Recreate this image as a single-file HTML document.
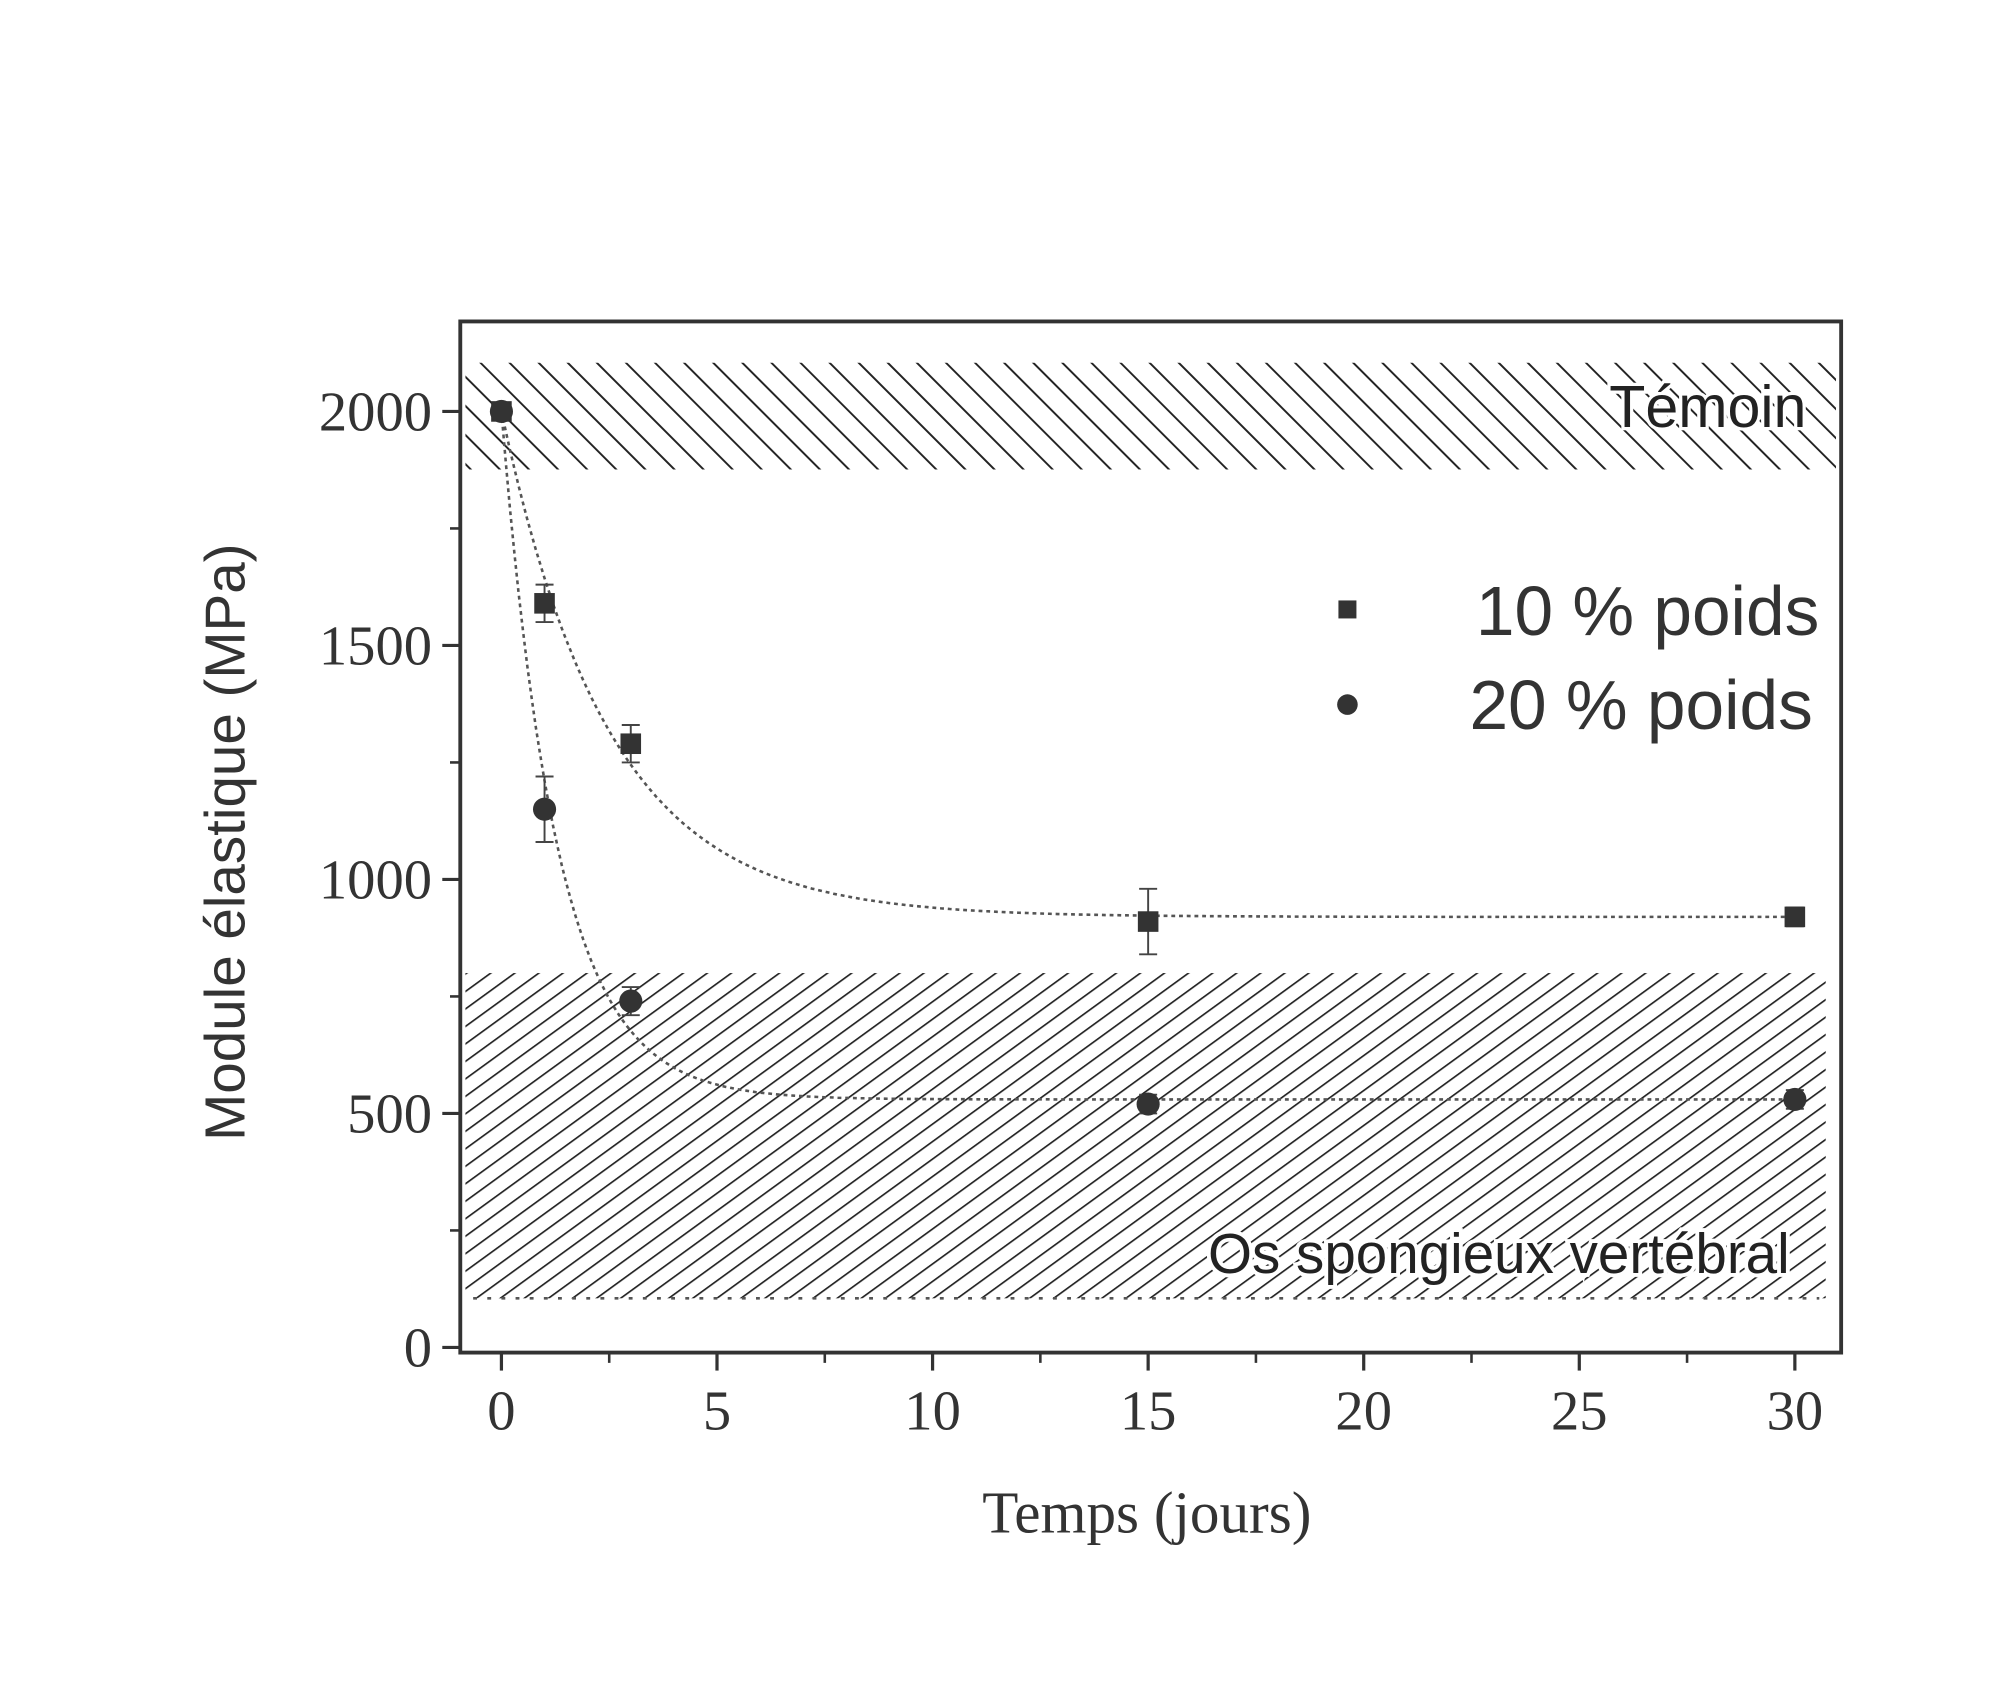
<!DOCTYPE html>
<html><head><meta charset="utf-8"><style>body{margin:0;background:#fff}svg{display:block}</style></head>
<body>
<svg width="2016" height="1691" viewBox="0 0 1568 1315.2" xmlns="http://www.w3.org/2000/svg">
<defs>
<pattern id="hatchA" width="16" height="16" patternUnits="userSpaceOnUse" patternTransform="rotate(-45)">
<line x1="0" y1="0" x2="0" y2="16" stroke="#222" stroke-width="3"/>
</pattern>
<pattern id="hatchB" width="11" height="11" patternUnits="userSpaceOnUse" patternTransform="rotate(54)">
<line x1="0" y1="0" x2="0" y2="11" stroke="#222" stroke-width="2.6"/>
</pattern>
</defs>
<g id="plot"></g>
</svg>
<script>
const xTicks=[0,5,10,15,20,25,30];
const yTicks=[0,500,1000,1500,2000];
const t10=[0,1,3,15,30];
const v10=[2000,1590,1290,910,920];
const e10=[0,40,40,70,20];
const t20=[0,1,3,15,30];
const v20=[2000,1150,740,520,530];
const e20=[0,70,30,20,20];
const fit10=[920,1080,2.5];
const fit20=[530,1470,1.3];
const bandTemoin=[1876,2104];
const bandOs=[105,800];
const L=358,R=1432,T=250,B=1052;
const X=t=>390+t*(1396-390)/30;
const Y=v=>1048-v*(1048-320)/2000;
const NS="http://www.w3.org/2000/svg";
const g=document.getElementById('plot');
function mk(tag,a,p){const e=document.createElementNS(NS,tag);for(const k in a)e.setAttribute(k,a[k]);(p||g).appendChild(e);return e;}
let b1=mk('rect',{x:L+4,y:Y(bandTemoin[1]),width:R-L-8,height:Y(bandTemoin[0])-Y(bandTemoin[1]),fill:'url(#hatchA)'});


let b2=mk('rect',{x:L+4,y:Y(bandOs[1]),width:1420-L-4,height:Y(bandOs[0])-Y(bandOs[1]),fill:'url(#hatchB)'});


mk('line',{x1:L+10,x2:1415,y1:Y(bandOs[0]),y2:Y(bandOs[0]),stroke:'#555','stroke-width':2,'stroke-dasharray':'3 8'});
let lt=mk('text',{x:1405,y:332,'font-size':46,'font-family':'Liberation Sans, sans-serif','text-anchor':'end',fill:'#222',stroke:'#fff','stroke-width':5,'paint-order':'stroke'});
lt.textContent='Témoin';


let lo=mk('text',{x:1392,y:990,'font-size':44,'font-family':'Liberation Sans, sans-serif','text-anchor':'end',fill:'#222',stroke:'#fff','stroke-width':6,'paint-order':'stroke'});
lo.textContent='Os spongieux vertébral';


let fr=mk('rect',{x:L,y:T,width:R-L,height:B-T,fill:'none',stroke:'#333','stroke-width':3});


xTicks.forEach(t=>{
  mk('line',{x1:X(t),x2:X(t),y1:B,y2:B+14,stroke:'#333','stroke-width':2.5});
  if(t<30)mk('line',{x1:X(t+2.5),x2:X(t+2.5),y1:B,y2:B+8,stroke:'#333','stroke-width':2});
  let tx=mk('text',{x:X(t),y:B+60,'font-size':44,'font-family':'Liberation Serif, serif','text-anchor':'middle',fill:'#333'});
  tx.textContent=t;
  
  
});
yTicks.forEach(v=>{
  mk('line',{x1:L-14,x2:L,y1:Y(v),y2:Y(v),stroke:'#333','stroke-width':2.5});
  if(v<2000)mk('line',{x1:L-8,x2:L,y1:Y(v+250),y2:Y(v+250),stroke:'#333','stroke-width':2});
  let ty=mk('text',{x:L-22,y:Y(v)+15,'font-size':44,'font-family':'Liberation Serif, serif','text-anchor':'end',fill:'#333'});
  ty.textContent=v;
  
  
});
let xt=mk('text',{x:892,y:1192,'font-size':46,'font-family':'Liberation Serif, serif','text-anchor':'middle',fill:'#333'});
xt.textContent='Temps (jours)';


let yt=mk('text',{x:0,y:0,'font-size':44,'font-family':'Liberation Sans, sans-serif','text-anchor':'middle',fill:'#333',transform:'translate(190,655) rotate(-90)'});
yt.textContent='Module élastique (MPa)';


function fitPath(p){let d='';for(let i=0;i<=300;i++){const t=i*30/300;const v=p[0]+p[1]*Math.exp(-t/p[2]);d+=(i?'L':'M')+X(t).toFixed(1)+' '+Y(v).toFixed(1);}return d;}
let f1=mk('path',{d:fitPath(fit10),fill:'none',stroke:'#555','stroke-width':2,'stroke-dasharray':'3 3'});


let f2=mk('path',{d:fitPath(fit20),fill:'none',stroke:'#555','stroke-width':2,'stroke-dasharray':'3 3'});


function pts(ts,vs,es,name,sq){
  ts.forEach((t,i)=>{
    if(es[i]>0){
      mk('line',{x1:X(t),x2:X(t),y1:Y(vs[i]+es[i]),y2:Y(vs[i]-es[i]),stroke:'#444','stroke-width':1.5});
      mk('line',{x1:X(t)-7,x2:X(t)+7,y1:Y(vs[i]+es[i]),y2:Y(vs[i]+es[i]),stroke:'#444','stroke-width':1.5});
      mk('line',{x1:X(t)-7,x2:X(t)+7,y1:Y(vs[i]-es[i]),y2:Y(vs[i]-es[i]),stroke:'#444','stroke-width':1.5});
    }
    let m=sq?mk('rect',{x:X(t)-8,y:Y(vs[i])-8,width:16,height:16,fill:'#333'}):mk('circle',{cx:X(t),cy:Y(vs[i]),r:9,fill:'#333'});
    
    
  });
}
pts(t10,v10,e10,'point-10-pct',true);
pts(t20,v20,e20,'point-20-pct',false);
let lm1=mk('rect',{x:1041,y:467,width:14,height:14,fill:'#333'});


let lm2=mk('circle',{cx:1048,cy:548,r:8,fill:'#333'});


let l1=mk('text',{x:1415,y:494,'font-size':54,'font-family':'Liberation Sans, sans-serif','text-anchor':'end',fill:'#333'});
l1.textContent='10 % poids';


let l2=mk('text',{x:1410,y:567,'font-size':54,'font-family':'Liberation Sans, sans-serif','text-anchor':'end',fill:'#333'});
l2.textContent='20 % poids';


</script>
</body></html>
